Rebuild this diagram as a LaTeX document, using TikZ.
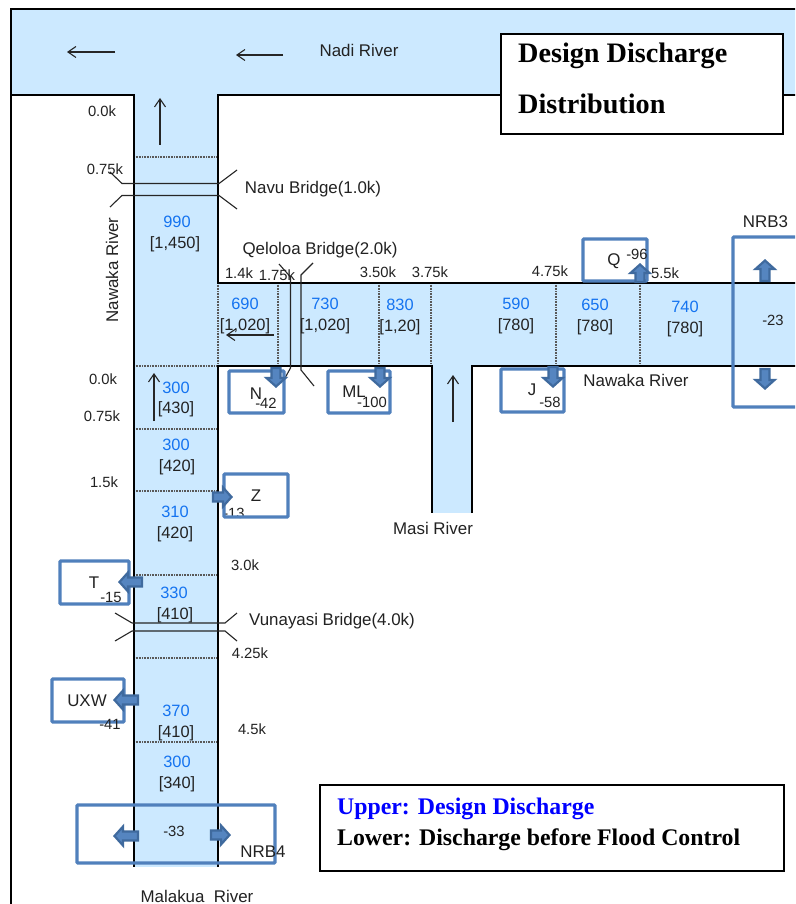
\documentclass[tikz,border=0pt]{standalone}
\usepackage{fontspec}
\setmainfont{Liberation Sans}
\newfontfamily\tms{Liberation Serif}
\definecolor{rivercol}{HTML}{CCE9FF}
\definecolor{boxcol}{HTML}{5080BC}
\definecolor{arrfill}{HTML}{5585C0}
\definecolor{arredge}{HTML}{3F6A9E}
\definecolor{numblue}{HTML}{1473F0}
\definecolor{inkcol}{HTML}{222222}
\usetikzlibrary{arrows.meta}
\tikzset{
  wall/.style={draw=black,line width=2.5pt},
  sect/.style={draw=black!65,line width=1.4pt,dash pattern=on 1pt off 0.6pt},
  bridge/.style={draw=black!85,line width=1.1pt},
  flowarrow/.style={draw=black!85,line width=1.1pt,-{Straight Barb[length=8pt,width=11pt]}},
  bluebox/.style={draw=boxcol,line width=3.4pt,rounded corners=1pt,inner sep=0pt},
  boxblank/.style={fill=white,inner sep=0pt},
  lab/.style={font=\fontsize{16.9}{17}\selectfont,text=inkcol,inner sep=0pt,yshift=-1pt},
  small/.style={font=\fontsize{14.8}{15}\selectfont,text=inkcol,inner sep=0pt},
  num/.style={font=\fontsize{16.4}{16}\selectfont,text=numblue,inner sep=0pt,yshift=-1pt},
  blk/.style={font=\fontsize{16.4}{16}\selectfont,text=inkcol,inner sep=0pt,yshift=-1.5pt},
  titletext/.style={font=\tms\bfseries\fontsize{28.2}{28}\selectfont,inner sep=0pt,anchor=west},
  legendtext/.style={font=\tms\bfseries\fontsize{23.8}{24}\selectfont,inner sep=0pt,anchor=west},
  framebox/.style={draw=black,line width=2.2pt,fill=white},
}
% block arrow: tail x, y, length, rotation (0 = pointing right; y axis is flipped)
\newcommand{\blockarr}[4]{%
  \begin{scope}[shift={(#1,#2)},rotate=#4]
    \draw[draw=arredge,fill=arrfill,line width=2.2pt,line join=miter]
      (1,-4.5) -- ({#3-10},-4.5) -- ({#3-10},-9.5) -- ({#3-1.5},0) -- ({#3-10},9.5) -- ({#3-10},4.5) -- (1,4.5) -- cycle;
  \end{scope}}
\begin{document}
\begin{tikzpicture}[x=1pt,y=-1pt]
\useasboundingbox (0,0) rectangle (795,904);
\clip (0,0) rectangle (795,904);
\fill[white] (0,0) rectangle (795,904);
% water
\fill[rivercol] (11,9) rectangle (800,95);
\fill[rivercol] (134,95) rectangle (218,867);
\fill[rivercol] (218,283) rectangle (800,366);
\fill[rivercol] (432,366) rectangle (472,513);
% section lines
\foreach \yy in {157,366,429,491,575,658,742} \draw[sect] (134,\yy) -- (218,\yy);
\foreach \xx in {218,278,379,431,556,640} \draw[sect] (\xx,283) -- (\xx,366);
% banks
\draw[wall] (800,9) -- (11,9) -- (11,910);
\draw[wall] (11,95) -- (134,95) -- (134,867);
\draw[wall] (800,95) -- (218,95) -- (218,283) -- (800,283);
\draw[wall] (218,867) -- (218,366) -- (432,366) -- (432,513);
\draw[wall] (472,513) -- (472,366) -- (800,366);
% bridges
\draw[bridge] (110,172) -- (122,183.5) -- (219,183.5) -- (237,170);
\draw[bridge] (110,207) -- (122,195.5) -- (219,195.5) -- (237,209);
\draw[bridge] (279,264) -- (290.5,277) -- (290.5,368) -- (285,378);
\draw[bridge] (313,263) -- (301,275) -- (301,370) -- (314,386);
\draw[bridge] (115,613) -- (132,623) -- (225,623) -- (237,613);
\draw[bridge] (115,641) -- (132,631) -- (225,631) -- (237,641);
% flow arrows
\coordinate (f1a) at (115,52);  \coordinate (f1b) at (67,52);
\coordinate (f2a) at (283,55);  \coordinate (f2b) at (236,55);
\coordinate (f3a) at (160,145); \coordinate (f3b) at (160,98);
\coordinate (f4a) at (453,422); \coordinate (f4b) at (453,375);
\coordinate (f5a) at (274,335); \coordinate (f5b) at (226,335);
\coordinate (f6a) at (154,421); \coordinate (f6b) at (154,373);
\foreach \n in {1,...,6} \draw[flowarrow] (f\n a) -- (f\n b);
% box interiors
\node[boxblank,minimum width=55pt,minimum height=42pt] (bN) at (256.5,392) {};
\node[boxblank,minimum width=62pt,minimum height=42pt] (bML) at (359,392) {};
\node[boxblank,minimum width=63pt,minimum height=43pt] (bJ) at (532.5,390.5) {};
\node[boxblank,minimum width=64pt,minimum height=42pt] (bQ) at (615,260) {};
\node[boxblank,minimum width=64pt,minimum height=43pt] (bZ) at (256,495.5) {};
\node[boxblank,minimum width=69pt,minimum height=43pt] (bT) at (94.5,582.5) {};
\node[boxblank,minimum width=72pt,minimum height=43pt] (bU) at (88,700.5) {};
% labels
\node[lab] (t1) at (359,49) {Nadi River};
\node[small] (t2) at (102,111) {0.0k};
\node[small] (t3) at (105,169) {0.75k};
\node[lab] (t4) at (313,188) {Navu Bridge(1.0k)};
\node[num] (t5) at (177,220.5) {990};
\node[blk] (t6) at (175,243) {[1,450]};
\node[lab,rotate=90] (t7) at (112,269) {Nawaka River};
\node[lab] (t8) at (320,249.5) {Qeloloa Bridge(2.0k)};
\node[small] (t9) at (239,273) {1.4k};
\node[small] (t10) at (277,275) {1.75k};
\node[small] (t11) at (378,272) {3.50k};
\node[small] (t12) at (430,272) {3.75k};
\node[small] (t13) at (550,271) {4.75k};
\node[small] (t14) at (665,273) {5.5k};
\node[lab] (t15) at (765.5,220.5) {NRB3};
\node[num] (t16) at (245,303) {690};
\node[blk] (t17) at (245,325) {[1,020]};
\node[num] (t18) at (325,303) {730};
\node[blk] (t19) at (325,325) {[1,020]};
\node[num] (t20) at (400,304) {830};
\node[blk] (t21) at (400,326) {[1,20]};
\node[num] (t22) at (516,303) {590};
\node[blk] (t23) at (516,325) {[780]};
\node[num] (t24) at (595,304) {650};
\node[blk] (t25) at (595,326) {[780]};
\node[num] (t26) at (685,306) {740};
\node[blk] (t27) at (685,328) {[780]};
\node[lab] (t28) at (636,379.5) {Nawaka River};
\node[small] (t29) at (103,379) {0.0k};
\node[num] (t30) at (176,387) {300};
\node[blk] (t31) at (176,408) {[430]};
\node[small] (t32) at (102,416) {0.75k};
\node[num] (t33) at (176,444) {300};
\node[blk] (t34) at (177,466) {[420]};
\node[small] (t35) at (104,482) {1.5k};
\node[num] (t36) at (175,511) {310};
\node[blk] (t37) at (175,533) {[420]};
\node[small] (t38) at (245,565) {3.0k};
\node[lab] (t39) at (433,527) {Masi River};
\node[num] (t40) at (174,592) {330};
\node[blk] (t41) at (175,614) {[410]};
\node[lab] (t42) at (332,620.5) {Vunayasi Bridge(4.0k)};
\node[small] (t43) at (250,653) {4.25k};
\node[num] (t44) at (176,710) {370};
\node[blk] (t45) at (176,732) {[410]};
\node[small] (t46) at (252,729) {4.5k};
\node[num] (t47) at (177,761) {300};
\node[blk] (t48) at (177,783) {[340]};
\node[lab] (t49) at (197,895) {Malakua\ \ River};
\node[small] (t50) at (234,513) {-13};
% blue boxes
\node[bluebox,minimum width=55pt,minimum height=42pt] (oN) at (bN) {};
\node[bluebox,minimum width=62pt,minimum height=42pt] (oML) at (bML) {};
\node[bluebox,minimum width=63pt,minimum height=43pt] (oJ) at (bJ) {};
\node[bluebox,minimum width=64pt,minimum height=42pt] (oQ) at (bQ) {};
\node[bluebox,minimum width=64pt,minimum height=43pt] (oZ) at (bZ) {};
\node[bluebox,minimum width=69pt,minimum height=43pt] (oT) at (bT) {};
\node[bluebox,minimum width=72pt,minimum height=43pt] (oU) at (bU) {};
\node[bluebox,minimum width=80pt,minimum height=170pt] (oR3) at (773,322) {};
\node[bluebox,minimum width=198pt,minimum height=58pt] (oR4) at (176,834) {};
% block arrows
\blockarr{276}{367}{21}{-90}
\blockarr{380}{367}{21}{-90}
\blockarr{553}{366}{22}{-90}
\blockarr{640}{283}{20}{90}
\blockarr{765}{282}{23}{90}
\blockarr{765}{368}{22}{-90}
\blockarr{212}{497}{21}{0}
\blockarr{143}{582}{25}{180}
\blockarr{139}{700}{26}{180}
\blockarr{139}{836}{26}{180}
\blockarr{210}{835}{21}{0}
% labels in the boxes
\node[lab] (n1) at (256,393) {N};
\node[small] (n2) at (266,403) {-42};
\node[lab] (n3) at (354,391) {ML};
\node[small] (n4) at (372,402) {-100};
\node[lab] (n5) at (532,389) {J};
\node[small] (n6) at (550,402) {-58};
\node[lab] (n7) at (614,260) {Q};
\node[small] (n8) at (637,254) {-96};
\node[lab] (n9) at (256,495) {Z};
\node[lab] (n10) at (94,582) {T};
\node[small] (n11) at (111,597) {-15};
\node[lab] (n12) at (87,700) {UXW};
\node[small] (n13) at (110,724) {-41};
\node[small] (n14) at (773,320) {-23};
\node[small] (n15) at (174,831) {-33};
\node[lab] (n16) at (263,851) {NRB4};
% title and legend
\node[framebox,minimum width=282pt,minimum height=100pt] (title) at (642,84) {};
\node[titletext] (title1) at (518,56) {Design Discharge};
\node[titletext] (title2) at (518,103.5) {Distribution};
\node[framebox,minimum width=464pt,minimum height=86pt] (legend) at (552,828) {};
\node[legendtext,text=blue] (leg1) at (337,808.5) {Upper: Design Discharge};
\node[legendtext] (leg2) at (337,839.5) {Lower: Discharge before Flood Control};
\end{tikzpicture}
\end{document}
